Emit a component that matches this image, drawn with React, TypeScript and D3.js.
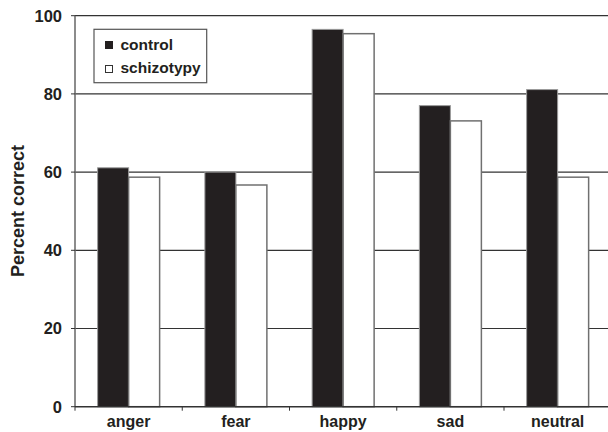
import React from "react";
import * as d3 from "d3";

const categories = ["anger", "fear", "happy", "sad", "neutral"];
const seriesNames = ["control", "schizotypy"];
const controlValues = [61.1, 60.0, 96.5, 77.0, 81.1];
const schizotypyValues = [58.7, 56.7, 95.4, 73.1, 58.7];
const yTicks = [0, 20, 40, 60, 80, 100];

const W = 608;
const H = 432;
const left = 75;
const right = 611.25;
const top = 15.7;
const bottom = 406.7;
const FONT = "'Liberation Sans', Arial, sans-serif";

export default function App() {
  const x = d3.scaleBand<string>().domain(categories).range([left, right]).paddingInner(0).paddingOuter(0);
  const y = d3.scaleLinear().domain([0, 100]).range([bottom, top]);
  const barW = 31;
  const series = [
    { name: seriesNames[0], values: controlValues, fill: "#231f20", stroke: "#9a9a9a", sw: 1 },
    { name: seriesNames[1], values: schizotypyValues, fill: "#ffffff", stroke: "#707070", sw: 1.5 },
  ];
  return (
    <svg width={W} height={H} style={{ display: "block", position: "absolute", left: 0, top: 0 }}>
      <rect x={0} y={0} width={W} height={H} fill="#fff" />
      {yTicks.filter((t) => t > 0).map((t) => (
        <line key={t} x1={left} x2={W} y1={y(t)} y2={y(t)} stroke="#333" strokeWidth={1.2} />
      ))}
      {series.map((s, si) =>
        categories.map((c, i) => {
          const cx = (x(c) as number) + x.bandwidth() / 2;
          const bx = cx - barW + si * barW;
          return (
            <rect
              key={s.name + c}
              x={bx}
              y={y(s.values[i])}
              width={barW}
              height={bottom - y(s.values[i])}
              fill={s.fill}
              stroke={s.stroke}
              strokeWidth={s.sw}
            />
          );
        })
      )}
      <line x1={left} x2={left} y1={top} y2={bottom} stroke="#666" strokeWidth={1.5} />
      {yTicks.map((t) => (
        <g key={"yt" + t}>
          <line x1={left - 4} x2={left} y1={y(t)} y2={y(t)} stroke="#333" strokeWidth={1} />
          <text
            x={left - 13}
            y={y(t)}
            dy="0.36em"
            textAnchor="end"
            fontFamily={FONT}
            fontWeight="bold"
            fontSize={16.5}
            fill="#231f20"
          >
            {t}
          </text>
        </g>
      ))}
      <line x1={left} x2={W} y1={bottom} y2={bottom} stroke="#333" strokeWidth={1.5} />
      {categories.map((c) => (
        <line key={"xt" + c} x1={x(c) as number} x2={x(c) as number} y1={bottom} y2={bottom + 4} stroke="#333" strokeWidth={1} />
      ))}
      {categories.map((c) => (
        <text
          key={"xl" + c}
          x={(x(c) as number) + x.bandwidth() / 2}
          y={427}
          textAnchor="middle"
          fontFamily={FONT}
          fontWeight="bold"
          fontSize={16}
          fill="#231f20"
        >
          {c}
        </text>
      ))}
      <text
        transform={`translate(24, 211) rotate(-90)`}
        textAnchor="middle"
        fontFamily={FONT}
        fontWeight="bold"
        fontSize={18}
        fill="#231f20"
      >
        Percent correct
      </text>
      <rect x={94} y={29.3} width={112.7} height={53.4} fill="#fff" stroke="#555" strokeWidth={1.2} />
      {series.map((s, i) => (
        <g key={"lg" + s.name}>
          <rect
            x={105.5}
            y={41.5 + i * 24}
            width={7}
            height={7}
            fill={s.fill}
            stroke={i === 0 ? "#231f20" : "#333"}
            strokeWidth={1}
          />
          <text x={120.5} y={49.5 + i * 23} fontFamily={FONT} fontWeight="bold" fontSize={15.5} fill="#231f20">
            {s.name}
          </text>
        </g>
      ))}
    </svg>
  );
}
